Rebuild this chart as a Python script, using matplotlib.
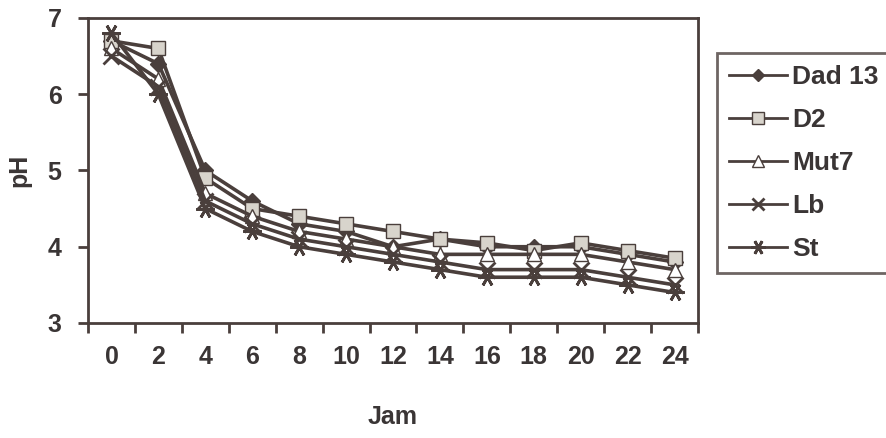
import matplotlib
matplotlib.use("Agg")
import matplotlib.pyplot as plt
import numpy as np

# pH over fermentation time (hours)
hours = [0, 2, 4, 6, 8, 10, 12, 14, 16, 18, 20, 22, 24]
dad13 = [6.7, 6.4, 5.0, 4.6, 4.3, 4.2, 4.0, 4.1, 4.0, 4.0, 4.0, 3.9, 3.8]
d2 = [6.7, 6.6, 4.9, 4.5, 4.4, 4.3, 4.2, 4.1, 4.05, 3.95, 4.05, 3.95, 3.85]
mut7 = [6.6, 6.2, 4.7, 4.4, 4.2, 4.1, 4.0, 3.9, 3.9, 3.9, 3.9, 3.8, 3.7]
lb = [6.5, 6.1, 4.6, 4.3, 4.1, 4.0, 3.9, 3.8, 3.7, 3.7, 3.7, 3.6, 3.5]
st = [6.8, 6.0, 4.5, 4.2, 4.0, 3.9, 3.8, 3.7, 3.6, 3.6, 3.6, 3.5, 3.4]

series = [
    ("Dad 13", dad13, dict(marker="D", mfc="#4a3f3c", ms=8)),
    ("D2", d2, dict(marker="s", mfc="#d8d4cc", ms=10)),
    ("Mut7", mut7, dict(marker="^", mfc="white", ms=10)),
    ("Lb", lb, dict(marker="x", ms=11, mew=2)),
    ("St", st, dict(marker=(6, 2, 90), ms=13, mew=2)),
]

ink = "#4a3f3c"
txt = "#3a3535"
plt.rcParams["font.family"] = ["Liberation Sans", "DejaVu Sans"]
plt.rcParams["font.weight"] = "bold"
plt.rcParams["axes.labelweight"] = "bold"

fig = plt.figure(figsize=(8.86, 4.38), dpi=100)
ax = fig.add_axes([0.0993, 0.2626, 0.6885, 0.6964])

x = np.arange(len(hours))
for name, vals, style in series:
    ax.plot(x, vals, color=ink, lw=2.6, mec=ink, label=name, **style)

ax.set_xlim(-0.5, len(hours) - 0.5)
ax.set_ylim(3, 7)
ax.set_yticks([3, 4, 5, 6, 7])
ax.set_xticks(x)
ax.set_xticklabels([str(h) for h in hours])
ax.set_xticks(np.arange(-0.5, len(hours)), minor=True)
ax.tick_params(axis="x", which="major", length=0, pad=16, labelsize=18, labelcolor=txt)
ax.tick_params(axis="x", which="minor", length=7, width=2, direction="out", color=ink)
ax.tick_params(axis="y", length=7, width=2, direction="out", color=ink, labelsize=18,
               labelcolor=txt, pad=12)
for s in ax.spines.values():
    s.set_linewidth(2)
    s.set_color(ink)

ax.set_ylabel("pH", fontsize=18, color=txt, labelpad=12)
ax.set_xlabel("Jam", fontsize=18, color=txt, labelpad=26)

leg = ax.legend(loc="upper left", bbox_to_anchor=(1.031, 0.885), fontsize=19,
                frameon=True, fancybox=False, handlelength=2.2, handletextpad=0.2,
                labelspacing=0.72, borderpad=0.45, borderaxespad=0, markerscale=0.8)
leg.get_frame().set_edgecolor(ink)
leg.get_frame().set_linewidth(2)
for t in leg.get_texts():
    t.set_color(txt)
for h in leg.legend_handles:
    h.set_linewidth(2)

fig.savefig("out.png", dpi=100)
plt.close(fig)
